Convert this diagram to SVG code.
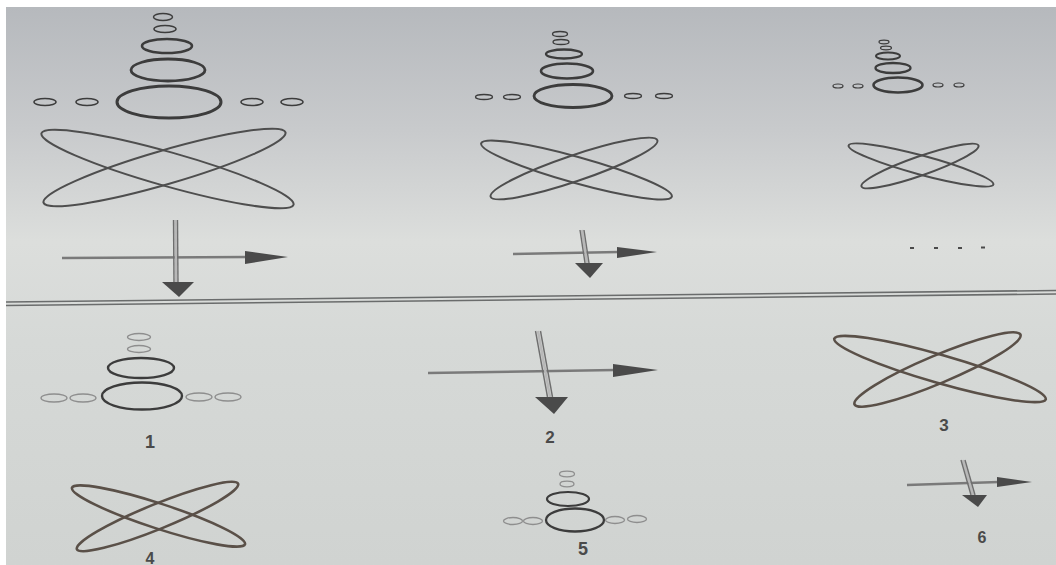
<svg xmlns="http://www.w3.org/2000/svg" width="1056" height="565" viewBox="0 0 1056 565">
<defs>
<linearGradient id="bg" x1="0" y1="0" x2="0" y2="1">
<stop offset="0" stop-color="#b6b9bd"/>
<stop offset="0.22" stop-color="#c8cacc"/>
<stop offset="0.42" stop-color="#dcdedc"/>
<stop offset="0.6" stop-color="#d6d9d7"/>
<stop offset="1" stop-color="#d0d3d1"/>
</linearGradient>
<style>
.c{fill:none;stroke:#3c3c3c}
.l{fill:none;stroke:#8e8e8e;stroke-width:1.3}
.x{fill:none;stroke:#4e4e4e;stroke-width:2}
.xb{fill:none;stroke:#5a5048;stroke-width:2.6}
.h{stroke:#7a7a7a;stroke-width:2.4;fill:none}
.v{stroke:#6e6e6e;stroke-width:1.4;fill:none}
.vf{stroke:#b8b8b8;stroke-width:2.5;fill:none}
.hd{fill:#4a4a4a}
.t{font-family:"Liberation Sans",Arial,sans-serif;font-weight:bold;fill:#4a4a4a;text-anchor:middle}
</style>
</defs>
<rect x="0" y="0" width="1056" height="565" fill="#ffffff"/>
<rect x="6" y="7" width="1050" height="558" fill="url(#bg)"/>

<g id="sep">
<line x1="6" y1="302" x2="1056" y2="290.5" stroke="#6a6c6c" stroke-width="1.6"/>
<line x1="6" y1="305.5" x2="1056" y2="294" stroke="#6a6c6c" stroke-width="1.6"/>
</g>

<g id="fig-top-1">
<ellipse class="c" cx="163" cy="17" rx="9.5" ry="3.5" stroke-width="1.5"/>
<ellipse class="c" cx="165" cy="29" rx="11" ry="3.5" stroke-width="1.5"/>
<ellipse class="c" cx="167" cy="46" rx="25" ry="7" stroke-width="2.6"/>
<ellipse class="c" cx="168" cy="70" rx="37" ry="11" stroke-width="2.8"/>
<ellipse class="c" cx="169" cy="102" rx="52" ry="16" stroke-width="3"/>
<ellipse class="c" cx="45" cy="102" rx="11" ry="3.5" stroke-width="1.5"/>
<ellipse class="c" cx="87" cy="102" rx="11" ry="3.5" stroke-width="1.5"/>
<ellipse class="c" cx="252" cy="102" rx="11" ry="3.5" stroke-width="1.5"/>
<ellipse class="c" cx="292" cy="102" rx="11" ry="3.5" stroke-width="1.5"/>
<ellipse class="x" cx="167.5" cy="169" rx="131" ry="17" transform="rotate(15.8 167.5 169)"/>
<ellipse class="x" cx="164.5" cy="167.5" rx="126" ry="17" transform="rotate(-16.2 164.5 167.5)"/>
</g>
<g id="arrows-top-1">
<line class="h" x1="62" y1="258" x2="248" y2="257"/>
<polygon class="hd" points="245,251 245,264 288,257"/>
<line class="vf" x1="175.5" y1="220" x2="176" y2="283"/>
<line class="v" x1="173.5" y1="220" x2="174" y2="283"/>
<line class="v" x1="177.5" y1="220" x2="178" y2="283"/>
<polygon class="hd" points="162,282 194,282 179,297"/>
</g>

<g id="fig-top-2">
<ellipse class="c" cx="560" cy="34" rx="7.5" ry="2.5" stroke-width="1.3"/>
<ellipse class="c" cx="561" cy="42" rx="8" ry="2.5" stroke-width="1.3"/>
<ellipse class="c" cx="564" cy="54" rx="18" ry="4.5" stroke-width="2.3"/>
<ellipse class="c" cx="567" cy="71" rx="26" ry="7.5" stroke-width="2.6"/>
<ellipse class="c" cx="573" cy="96" rx="39" ry="11.5" stroke-width="2.8"/>
<ellipse class="c" cx="484" cy="97" rx="8.5" ry="2.5" stroke-width="1.3"/>
<ellipse class="c" cx="512" cy="97" rx="8.5" ry="2.5" stroke-width="1.3"/>
<ellipse class="c" cx="633" cy="96" rx="8.5" ry="2.5" stroke-width="1.3"/>
<ellipse class="c" cx="664" cy="96" rx="8.5" ry="2.5" stroke-width="1.3"/>
<ellipse class="x" cx="576.5" cy="170" rx="99" ry="13" transform="rotate(15.6 576.5 170)"/>
<ellipse class="x" cx="574" cy="168.5" rx="88" ry="13" transform="rotate(-18.7 574 168.5)"/>
</g>
<g id="arrows-top-2">
<line class="h" x1="513" y1="254" x2="619" y2="252"/>
<polygon class="hd" points="617,247 617,258 657,252"/>
<line class="vf" x1="582" y1="230" x2="587" y2="263"/>
<line class="v" x1="580" y1="230" x2="585" y2="263"/>
<line class="v" x1="584" y1="230" x2="589" y2="263"/>
<polygon class="hd" points="575,263 603,263 590,278"/>
</g>

<g id="fig-top-3">
<ellipse class="c" cx="884" cy="42" rx="5" ry="1.8" stroke-width="1.2"/>
<ellipse class="c" cx="886" cy="48" rx="5.5" ry="1.8" stroke-width="1.2"/>
<ellipse class="c" cx="888" cy="56" rx="12" ry="3.5" stroke-width="2"/>
<ellipse class="c" cx="893" cy="68" rx="17.5" ry="5" stroke-width="2.3"/>
<ellipse class="c" cx="898" cy="85" rx="24.5" ry="7.5" stroke-width="2.6"/>
<ellipse class="c" cx="838" cy="86" rx="5" ry="2" stroke-width="1.2"/>
<ellipse class="c" cx="858" cy="86" rx="5" ry="2" stroke-width="1.2"/>
<ellipse class="c" cx="938" cy="85" rx="5" ry="2" stroke-width="1.2"/>
<ellipse class="c" cx="959" cy="85" rx="5" ry="2" stroke-width="1.2"/>
<ellipse class="x" cx="921" cy="165" rx="75" ry="9.5" transform="rotate(15.1 921 165)"/>
<ellipse class="x" cx="920" cy="166" rx="62" ry="9.5" transform="rotate(-19.3 920 166)"/>
</g>
<g id="dots" fill="#4a4a4a">
<rect x="910" y="247" width="4" height="2"/>
<rect x="934" y="247" width="4" height="2"/>
<rect x="958" y="247" width="4" height="2"/>
<rect x="981" y="246.5" width="4" height="2"/>
</g>

<g id="opt-1">
<ellipse class="l" cx="139" cy="337" rx="11.5" ry="3.5"/>
<ellipse class="l" cx="139" cy="349" rx="11.5" ry="3.5"/>
<ellipse class="c" cx="141" cy="368" rx="33" ry="10" stroke-width="2.4" stroke="#5a5048"/>
<ellipse class="c" cx="142" cy="396" rx="40" ry="13.5" stroke-width="2.4" stroke="#5a5048"/>
<ellipse class="l" cx="54" cy="398" rx="13" ry="4"/>
<ellipse class="l" cx="83" cy="398" rx="13" ry="4"/>
<ellipse class="l" cx="199" cy="397" rx="13" ry="4"/>
<ellipse class="l" cx="228" cy="397" rx="13" ry="4"/>
<text class="t" x="150" y="448" font-size="18">1</text>
</g>

<g id="opt-2">
<line class="h" x1="428" y1="373" x2="615" y2="370"/>
<polygon class="hd" points="613,364 613,377 658,370"/>
<line class="vf" x1="538" y1="331" x2="550" y2="397"/>
<line class="v" x1="535.5" y1="331" x2="547.5" y2="397"/>
<line class="v" x1="540.5" y1="331" x2="552.5" y2="397"/>
<polygon class="hd" points="535,397 568,397 554,414"/>
<text class="t" x="550" y="443" font-size="17">2</text>
</g>

<g id="opt-3">
<ellipse class="xb" cx="940" cy="369" rx="110" ry="14" transform="rotate(16 940 369)"/>
<ellipse class="xb" cx="937.5" cy="369.5" rx="90" ry="14" transform="rotate(-22.8 937.5 369.5)"/>
<text class="t" x="944" y="431" font-size="17">3</text>
</g>

<g id="opt-4">
<ellipse class="xb" cx="158.5" cy="516" rx="91" ry="12.5" transform="rotate(18.1 158.5 516)"/>
<ellipse class="xb" cx="157.5" cy="516.5" rx="87" ry="12.5" transform="rotate(-22.1 157.5 516.5)"/>
<text class="t" x="150" y="564" font-size="16">4</text>
</g>

<g id="opt-5">
<ellipse class="l" cx="567" cy="474" rx="7.5" ry="2.8"/>
<ellipse class="l" cx="567" cy="484" rx="7" ry="2.8"/>
<ellipse class="c" cx="568" cy="499" rx="21" ry="7" stroke-width="2.2" stroke="#5a5048"/>
<ellipse class="c" cx="575" cy="520" rx="29" ry="11.5" stroke-width="2.3" stroke="#5a5048"/>
<ellipse class="l" cx="513" cy="521" rx="9.5" ry="3.5"/>
<ellipse class="l" cx="533" cy="521" rx="9.5" ry="3.5"/>
<ellipse class="l" cx="615" cy="520" rx="9.5" ry="3.5"/>
<ellipse class="l" cx="637" cy="519" rx="9.5" ry="3.5"/>
<text class="t" x="583" y="555" font-size="18">5</text>
</g>

<g id="opt-6">
<line class="h" x1="907" y1="485" x2="999" y2="482"/>
<polygon class="hd" points="997,477 997,487 1032,482"/>
<line class="vf" x1="963" y1="460" x2="973" y2="495"/>
<line class="v" x1="961" y1="460" x2="971" y2="495"/>
<line class="v" x1="965" y1="460" x2="975" y2="495"/>
<polygon class="hd" points="962,495 987,495 978,507"/>
<text class="t" x="982" y="543" font-size="16">6</text>
</g>
</svg>
